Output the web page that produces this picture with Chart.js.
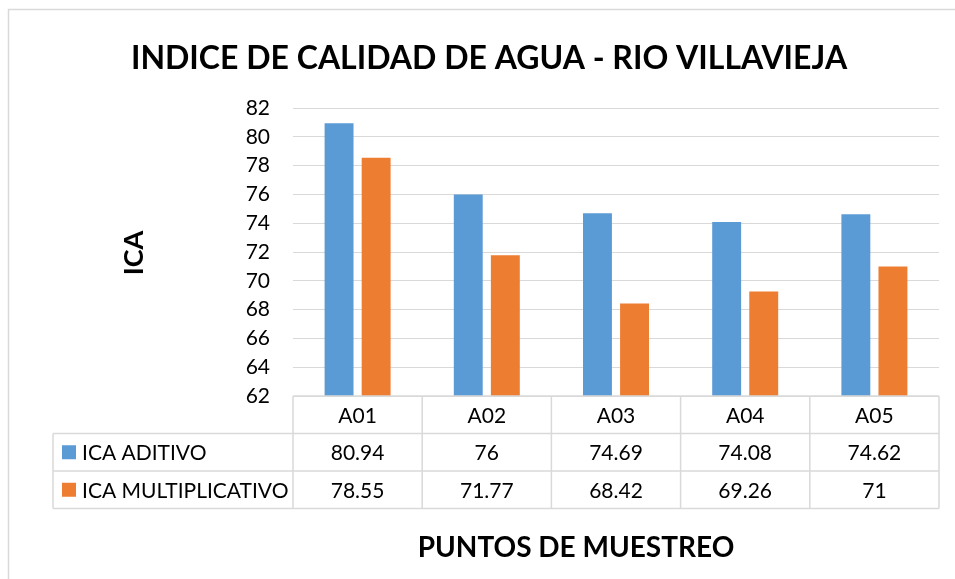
<!DOCTYPE html>
<html>
<head>
<meta charset="utf-8">
<script src="https://cdn.jsdelivr.net/npm/chart.js@4/dist/chart.umd.min.js"></script>
<style>
  html, body { margin: 0; padding: 0; background: #ffffff; }
  #wrap { width: 955px; height: 579px; position: relative; }
</style>
</head>
<body>
<div id="wrap"><canvas id="c" width="955" height="579"></canvas></div>
<script>
// Sampling points and water quality index per method
const puntos = ['A01', 'A02', 'A03', 'A04', 'A05'];
const icaAditivo = [80.94, 76, 74.69, 74.08, 74.62];
const icaMultiplicativo = [78.55, 71.77, 68.42, 69.26, 71];
const serieNombres = ['ICA ADITIVO', 'ICA MULTIPLICATIVO'];
const yTicks = [62, 64, 66, 68, 70, 72, 74, 76, 78, 80, 82];

const BLUE = '#5B9BD5';
const ORANGE = '#ED7D31';
const GRID = '#D9D9D9';
const TEXT = '#000000';
const FONT = 'Lato, "Open Sans", sans-serif';

// Data table under the plot, plus titles and the frame
const tablePlugin = {
  id: 'dataTable',
  afterDraw(chart) {
    const ctx = chart.ctx;
    const area = chart.chartArea;
    const x = chart.scales.x;
    const rowH = 37.5;
    const tableLeft = 53;
    const top = area.bottom;
    const r1 = top + rowH, r2 = r1 + rowH, r3 = r2 + rowH;
    const n = puntos.length;
    const colW = (area.right - area.left) / n;

    ctx.save();
    ctx.strokeStyle = GRID;
    ctx.lineWidth = 1.5;
    ctx.beginPath();
    // horizontal rules
    ctx.moveTo(area.left, top); ctx.lineTo(area.right, top);
    ctx.moveTo(tableLeft, r1); ctx.lineTo(area.right, r1);
    ctx.moveTo(tableLeft, r2); ctx.lineTo(area.right, r2);
    ctx.moveTo(tableLeft, r3); ctx.lineTo(area.right, r3);
    // vertical rules
    ctx.moveTo(tableLeft, r1); ctx.lineTo(tableLeft, r3);
    for (let i = 0; i <= n; i++) {
      const xx = area.left + i * colW;
      ctx.moveTo(xx, top); ctx.lineTo(xx, r3);
    }
    ctx.stroke();

    ctx.fillStyle = TEXT;
    ctx.font = '21px ' + FONT;
    ctx.textAlign = 'center';
    ctx.textBaseline = 'middle';
    const rows = [icaAditivo, icaMultiplicativo];
    puntos.forEach((p, i) => {
      const cx = x.getPixelForValue(i);
      ctx.fillText(p, cx, (top + r1) / 2 + 1);
      ctx.fillText(String(rows[0][i]), cx, (r1 + r2) / 2 + 1);
      ctx.fillText(String(rows[1][i]), cx, (r2 + r3) / 2 + 1);
    });

    // legend keys in the first column
    const colors = [BLUE, ORANGE];
    ctx.textAlign = 'left';
    [r1, r2].forEach((ry, k) => {
      const cy = ry + rowH / 2;
      ctx.fillStyle = colors[k];
      ctx.fillRect(62, cy - 7, 14, 14);
      ctx.fillStyle = TEXT;
      ctx.fillText(serieNombres[k], 82, cy + 1);
    });

    // titles
    ctx.textAlign = 'center';
    ctx.font = 'bold 32px ' + FONT;
    ctx.fillText('INDICE DE CALIDAD DE AGUA - RIO VILLAVIEJA', 489, 59);
    ctx.font = 'bold 28px ' + FONT;
    ctx.fillText('PUNTOS DE MUESTREO', 576, 548);
    ctx.save();
    ctx.translate(134, 253);
    ctx.rotate(-Math.PI / 2);
    ctx.font = 'bold 27px ' + FONT;
    ctx.fillText('ICA', 0, 0);
    ctx.restore();

    // outer frame
    ctx.strokeStyle = GRID;
    ctx.lineWidth = 1.5;
    ctx.beginPath();
    ctx.moveTo(8.5, 579); ctx.lineTo(8.5, 9.5); ctx.lineTo(955, 9.5);
    ctx.stroke();
    ctx.restore();
  }
};

new Chart(document.getElementById('c'), {
  type: 'bar',
  data: {
    labels: puntos,
    datasets: [
      { label: serieNombres[0], data: icaAditivo, backgroundColor: BLUE },
      { label: serieNombres[1], data: icaMultiplicativo, backgroundColor: ORANGE }
    ]
  },
  options: {
    responsive: false,
    animation: false,
    devicePixelRatio: 1,
    layout: { padding: { left: 0, right: 16, top: 108, bottom: 183 } },
    datasets: { bar: { categoryPercentage: 0.574, barPercentage: 0.78 } },
    plugins: { legend: { display: false }, tooltip: { enabled: false }, title: { display: false } },
    scales: {
      x: { display: false },
      y: {
        min: 62, max: 82,
        afterBuildTicks(scale) { scale.ticks = yTicks.map(v => ({ value: v })); },
        afterFit(scale) { scale.width = 293; },
        border: { display: false },
        grid: { color: GRID, lineWidth: 1, drawTicks: false },
        ticks: { color: TEXT, font: { family: FONT, size: 21 }, padding: 23 }
      }
    }
  },
  plugins: [tablePlugin]
});
</script>
</body>
</html>
